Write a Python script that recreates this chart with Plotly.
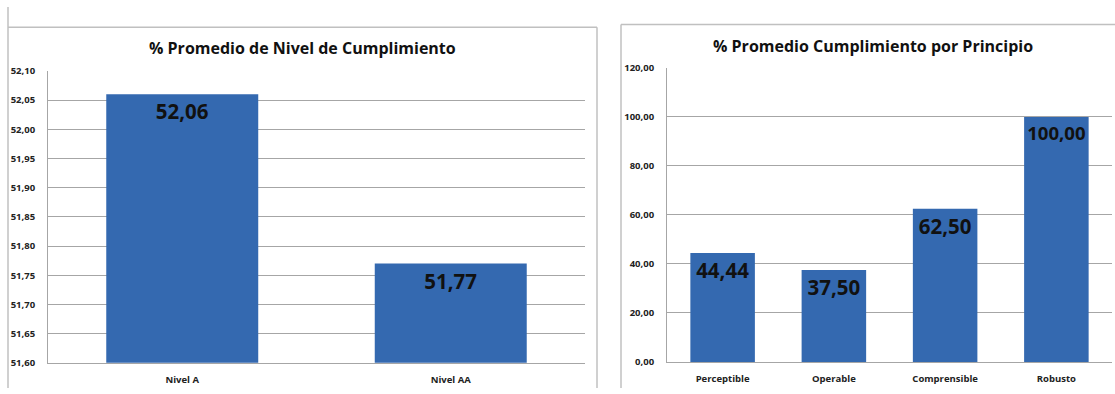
import plotly.graph_objects as go

# Average compliance by WCAG conformance level
niveles = ["Nivel A", "Nivel AA"]
pct_nivel = [52.06, 51.77]
ticks_nivel = [51.60, 51.65, 51.70, 51.75, 51.80, 51.85, 51.90, 51.95, 52.00, 52.05, 52.10]

# Average compliance by principle
principios = ["Perceptible", "Operable", "Comprensible", "Robusto"]
pct_principio = [44.44, 37.50, 62.50, 100.00]
ticks_principio = [0, 20, 40, 60, 80, 100, 120]

W, H = 1115, 394
FONT = "Open Sans"
BAR = "#3469B0"
GRID = "#A6A6A6"
FRAME = "#C0C0C0"


def px(x):
    return x / W


def py(y):
    return 1 - y / H


fig = go.Figure()

label_font = dict(family=FONT, size=20.5, color="#111111", weight="bold")

fig.add_trace(go.Bar(
    x=niveles, y=pct_nivel, width=0.566,
    marker=dict(color=BAR, line=dict(width=0)),
    texttemplate="%{y:.2f}", textposition="inside", insidetextanchor="end",
    textangle=0, textfont=label_font,
    xaxis="x", yaxis="y", showlegend=False, hoverinfo="x+y",
))

fig.add_trace(go.Bar(
    x=principios, y=pct_principio, width=0.58,
    marker=dict(color=BAR, line=dict(width=0)),
    texttemplate="%{y:.2f}", textposition="inside", insidetextanchor="end",
    textangle=0, textfont=label_font,
    xaxis="x2", yaxis="y2", showlegend=False, hoverinfo="x+y",
))

tickfont = dict(family=FONT, size=9.5, color="#222222", weight="bold")

axis_common = dict(
    showline=True, linecolor=GRID, linewidth=1,
    tickfont=tickfont, ticks="", fixedrange=True,
)

fig.update_layout(
    width=W, height=H,
    margin=dict(l=0, r=0, t=0, b=0),
    paper_bgcolor="white", plot_bgcolor="white",
    separators=",.",
    xaxis=dict(domain=[px(48), px(585)], anchor="y", showgrid=False,
               ticklabelstandoff=8, **axis_common),
    yaxis=dict(domain=[py(368), py(66)], anchor="x", range=[51.60, 52.10],
               tickvals=ticks_nivel, tickformat=".2f",
               showgrid=True, gridcolor=GRID, gridwidth=1,
               ticklabelstandoff=10, **axis_common),
    xaxis2=dict(domain=[px(667), px(1112)], anchor="y2", showgrid=False,
                ticklabelstandoff=8, **axis_common),
    yaxis2=dict(domain=[py(367), py(63)], anchor="x2", range=[0, 120],
                tickvals=ticks_principio, tickformat=".2f",
                showgrid=True, gridcolor=GRID, gridwidth=1,
                ticklabelstandoff=10, **axis_common),
)

title_font = dict(family=FONT, size=16, color="#111111", weight="bold")
fig.add_annotation(text="% Promedio de Nivel de Cumplimiento",
                   x=px(302), y=py(42), xref="paper", yref="paper",
                   showarrow=False, font=title_font,
                   xanchor="center", yanchor="middle")
fig.add_annotation(text="% Promedio Cumplimiento por Principio",
                   x=px(873), y=py(40), xref="paper", yref="paper",
                   showarrow=False, font=title_font,
                   xanchor="center", yanchor="middle")

# Chart-area frames
frame_line = dict(color=FRAME, width=1.5)
for x0, y0, x1, y1 in [
    (8, 0, 8, H), (8, 21, 597, 21), (597, 21, 597, H),
    (621, 18, 621, H), (621, 18, W, 18),
]:
    fig.add_shape(type="line", xref="paper", yref="paper",
                  x0=px(x0), y0=py(y0), x1=px(x1), y1=py(y1),
                  line=frame_line)

fig.write_html("out.html")
